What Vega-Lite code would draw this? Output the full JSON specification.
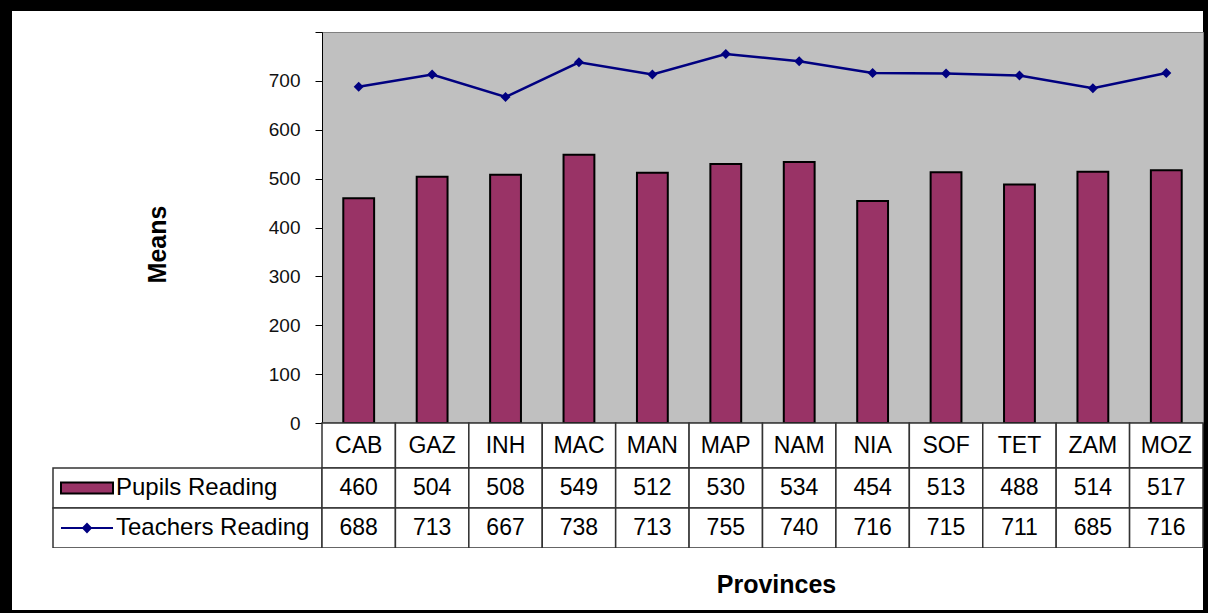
{
  "$schema": "https://vega.github.io/schema/vega-lite/v6.json",
  "background": "black",
  "padding": {"left": 12, "top": 11, "right": 5, "bottom": 3},
  "config": {
    "font": "Liberation Sans",
    "view": {"stroke": null, "fill": "white"},
    "concat": {"spacing": 0}
  },
  "datasets": {
    "reading": [
      {"province": "CAB", "series": "Pupils Reading", "value": 460},
      {"province": "GAZ", "series": "Pupils Reading", "value": 504},
      {"province": "INH", "series": "Pupils Reading", "value": 508},
      {"province": "MAC", "series": "Pupils Reading", "value": 549},
      {"province": "MAN", "series": "Pupils Reading", "value": 512},
      {"province": "MAP", "series": "Pupils Reading", "value": 530},
      {"province": "NAM", "series": "Pupils Reading", "value": 534},
      {"province": "NIA", "series": "Pupils Reading", "value": 454},
      {"province": "SOF", "series": "Pupils Reading", "value": 513},
      {"province": "TET", "series": "Pupils Reading", "value": 488},
      {"province": "ZAM", "series": "Pupils Reading", "value": 514},
      {"province": "MOZ", "series": "Pupils Reading", "value": 517},
      {"province": "CAB", "series": "Teachers Reading", "value": 688},
      {"province": "GAZ", "series": "Teachers Reading", "value": 713},
      {"province": "INH", "series": "Teachers Reading", "value": 667},
      {"province": "MAC", "series": "Teachers Reading", "value": 738},
      {"province": "MAN", "series": "Teachers Reading", "value": 713},
      {"province": "MAP", "series": "Teachers Reading", "value": 755},
      {"province": "NAM", "series": "Teachers Reading", "value": 740},
      {"province": "NIA", "series": "Teachers Reading", "value": 716},
      {"province": "SOF", "series": "Teachers Reading", "value": 715},
      {"province": "TET", "series": "Teachers Reading", "value": 711},
      {"province": "ZAM", "series": "Teachers Reading", "value": 685},
      {"province": "MOZ", "series": "Teachers Reading", "value": 716}
    ]
  },
  "data": {"name": "reading"},
  "columns": 2,
  "align": "none",
  "bounds": "flush",
  "spacing": 0,
  "concat": [
    {"width": 310, "height": 21, "view": {"fill": "white", "stroke": null}, "mark": {"type": "text", "text": ""}},
    {"width": 881, "height": 21, "view": {"fill": "white", "stroke": null}, "mark": {"type": "text", "text": ""}},
    {
      "width": 310,
      "height": 391,
      "view": {"fill": null, "stroke": null},
      "data": {"values": [{"label": ""}]},
      "mark": {"type": "rect", "fill": "white", "stroke": null, "y2Offset": 45},
      "encoding": {
        "x": {"value": 0},
        "x2": {"value": "width"},
        "y": {"value": 0},
        "y2": {"value": "height"}
      }
    },
    {
      "width": 881,
      "height": 391,
      "view": {"fill": "#C0C0C0", "stroke": "#808080"},
      "encoding": {
        "x": {
          "field": "province", "type": "nominal", "sort": null,
          "scale": {"paddingInner": 0.58, "paddingOuter": 0.29},
          "axis": {"title": null, "labels": false, "ticks": false, "domainColor": "black", "domainWidth": 1.5}
        }
      },
      "layer": [
        {
          "transform": [{"filter": "datum.series === 'Pupils Reading'"}],
          "mark": {"type": "bar", "fill": "#993366", "stroke": "black", "strokeWidth": 2},
          "encoding": {
            "y": {
              "field": "value", "type": "quantitative",
              "scale": {"domain": [0, 800], "nice": false},
              "axis": {
                "title": "Means",
                "values": [0, 100, 200, 300, 400, 500, 600, 700, 800],
                "labelExpr": "datum.value == 800 ? '' : datum.label",
                "grid": false,
                "tickSize": 7,
                "tickColor": "black",
                "domainColor": "black",
                "labelFontSize": 19,
                "labelColor": "#111111",
                "labelPadding": 15,
                "titleFontSize": 25,
                "titleFontWeight": "bold",
                "titleColor": "black",
                "titlePadding": 98,
                "titleY": 212
              }
            }
          }
        },
        {
          "transform": [{"filter": "datum.series === 'Teachers Reading'"}],
          "mark": {
            "type": "line", "color": "#000080", "strokeWidth": 2.5,
            "point": {"shape": "diamond", "size": 100, "filled": true, "color": "#000080"}
          },
          "encoding": {"y": {"field": "value", "type": "quantitative"}}
        }
      ]
    },
    {"width": 310, "height": 45, "view": {"fill": null, "stroke": null}, "mark": {"type": "text", "text": ""}},
    {
      "width": 881,
      "height": 45,
      "view": {"fill": "white", "stroke": null},
      "transform": [{"filter": "datum.series === 'Pupils Reading'"}],
      "encoding": {
        "x": {"field": "province", "type": "nominal", "sort": null, "scale": {"paddingInner": 0, "paddingOuter": 0}, "axis": null},
        "y": {"field": "series", "type": "nominal", "scale": {"paddingInner": 0, "paddingOuter": 0}, "axis": null}
      },
      "layer": [
        {"mark": {"type": "rect", "fill": "white", "stroke": "#333333", "strokeWidth": 1.5}},
        {"mark": {"type": "text", "fontSize": 23, "color": "black"}, "encoding": {"text": {"field": "province"}}}
      ]
    },
    {
      "width": 310,
      "height": 80,
      "view": {"fill": "white", "stroke": null},
      "transform": [{"aggregate": [{"op": "count", "as": "n"}], "groupby": ["series"]}],
      "encoding": {
        "y": {"field": "series", "type": "nominal", "sort": ["Pupils Reading", "Teachers Reading"], "scale": {"paddingInner": 0, "paddingOuter": 0}, "axis": null}
      },
      "layer": [
        {
          "mark": {"type": "rect", "fill": "white", "stroke": "#333333", "strokeWidth": 1.5, "xOffset": 41},
          "encoding": {"x": {"value": 0}, "x2": {"value": "width"}}
        },
        {
          "mark": {"type": "point", "filled": true, "size": 2704, "strokeWidth": 2, "opacity": 1, "xOffset": -80},
          "encoding": {
            "shape": {"field": "series", "type": "nominal", "scale": {"domain": ["Pupils Reading", "Teachers Reading"], "range": ["M-1,-0.21H1V0.21H-1Z", "M-1,0H1M-0.15,0L0,-0.16L0.15,0L0,0.16Z"]}, "legend": null},
            "fill": {"field": "series", "type": "nominal", "scale": {"domain": ["Pupils Reading", "Teachers Reading"], "range": ["#993366", "#000080"]}, "legend": null},
            "stroke": {"field": "series", "type": "nominal", "scale": {"domain": ["Pupils Reading", "Teachers Reading"], "range": ["#000000", "#000080"]}, "legend": null}
          }
        },
        {
          "mark": {"type": "text", "align": "left", "dx": -51, "fontSize": 24, "color": "black"},
          "encoding": {"text": {"field": "series"}}
        }
      ]
    },
    {
      "width": 881,
      "height": 80,
      "view": {"fill": "white", "stroke": null},
      "encoding": {
        "x": {"field": "province", "type": "nominal", "sort": null, "scale": {"paddingInner": 0, "paddingOuter": 0}, "axis": null},
        "y": {"field": "series", "type": "nominal", "sort": ["Pupils Reading", "Teachers Reading"], "scale": {"paddingInner": 0, "paddingOuter": 0}, "axis": null}
      },
      "layer": [
        {"mark": {"type": "rect", "fill": "white", "stroke": "#333333", "strokeWidth": 1.5}},
        {"mark": {"type": "text", "fontSize": 23, "color": "black"}, "encoding": {"text": {"field": "value"}}}
      ]
    },
    {"width": 310, "height": 62, "view": {"fill": "white", "stroke": null}, "mark": {"type": "text", "text": ""}},
    {
      "width": 881,
      "height": 62,
      "view": {"fill": "white", "stroke": null},
      "data": {"values": [{"label": "Provinces"}]},
      "mark": {"type": "text", "fontSize": 25, "fontWeight": "bold", "color": "black", "baseline": "alphabetic", "dx": 14, "dy": 14},
      "encoding": {"text": {"field": "label"}}
    }
  ]
}
